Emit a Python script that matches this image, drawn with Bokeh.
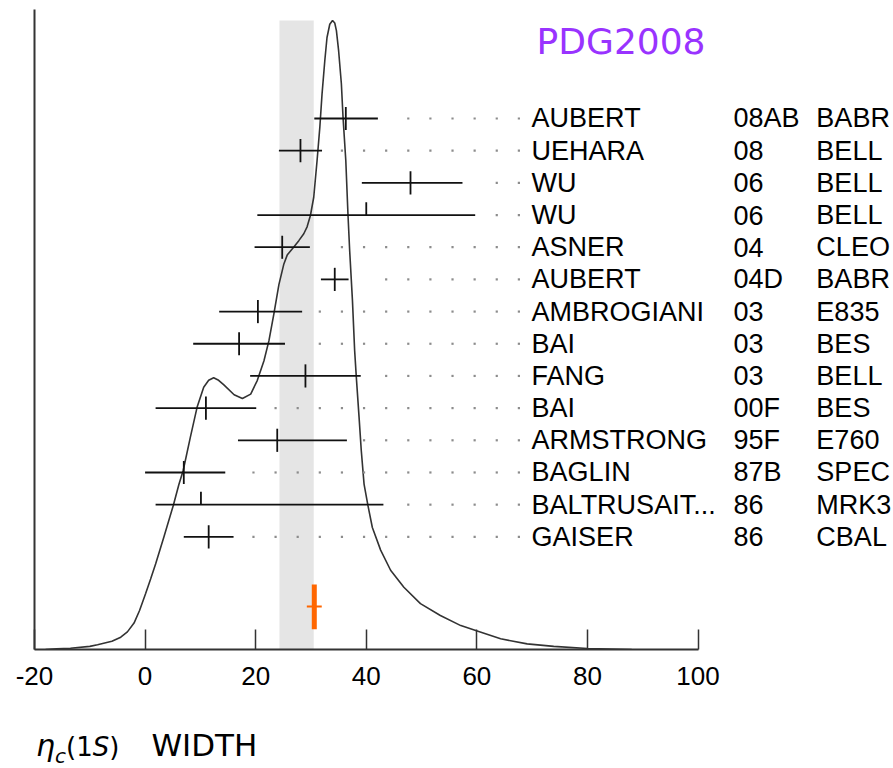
import numpy as np
from bokeh.plotting import figure
from bokeh.layouts import column
from bokeh.models import Range1d, FixedTicker, ColumnDataSource, Div
from bokeh.core.properties import value
from bokeh.embed import file_html
from bokeh.resources import INLINE

# Measurements of the eta_c(1S) width (MeV), newest first
authors = ["AUBERT", "UEHARA", "WU", "WU", "ASNER", "AUBERT", "AMBROGIANI", "BAI",
           "FANG", "BAI", "ARMSTRONG", "BAGLIN", "BALTRUSAIT...", "GAISER"]
years = ["08AB", "08", "06", "06", "04", "04D", "03", "03", "03", "00F", "95F", "87B", "86", "86"]
experiments = ["BABR", "BELL", "BELL", "BELL", "CLEO", "BABR", "E835", "BES", "BELL",
               "BES", "E760", "SPEC", "MRK3", "CBAL"]
widths = [36.3, 28.1, 48.0, 40.0, 24.8, 34.3, 20.4, 17.0, 29.0, 11.0, 23.9, 7.0, 10.1, 11.5]
err_minus = [5.7, 3.9, 8.8, 19.7, 5.0, 2.5, 7.0, 8.3, 10.0, 9.1, 7.1, 7.0, 8.2, 4.5]
err_plus = [5.8, 3.9, 9.4, 19.7, 5.0, 2.5, 8.0, 8.3, 10.0, 9.1, 12.6, 7.5, 33.0, 4.5]
used_in_fit = [True, True, True, False, True, True, True, True, True, True, True, True, False, True]

# Fitted average (grey band) and the highlighted value (orange marker)
fit_mean, fit_err = 27.4, 3.1
highlight_value, highlight_err = 30.6, 1.35

# Ideogram curve, relative height (peak = 1)
curve_x = [-18.0, -16.0, -13.5, -10.0, -8.6, -6.0, -4.4, -3.2, -2.0, -1.0, 0.1, 1.0, 1.9, 3.4,
           5.1, 6.1, 6.9, 8.2, 9.4, 10.6, 11.5, 12.4, 13.3, 14.2, 16.1, 17.6, 19.1, 20.3, 21.5,
           22.4, 23.3, 24.2, 25.1, 25.7, 26.9, 27.8, 28.7, 29.3, 29.9, 30.5, 31.1, 31.6, 32.0,
           32.5, 32.9, 33.4, 33.9, 34.3, 34.6, 35.0, 35.5, 35.8, 36.3, 36.7, 37.0, 37.5, 37.9,
           38.2, 38.7, 39.1, 39.6, 40.3, 41.1, 42.6, 44.4, 46.8, 49.8, 53.4, 57.1, 60.2, 64.3,
           69.1, 73.9, 80.0, 88.0]
curve_h = [0.0, 0.001, 0.002, 0.005, 0.0075, 0.013, 0.0196, 0.028, 0.042, 0.062, 0.089, 0.112,
           0.136, 0.179, 0.229, 0.262, 0.285, 0.338, 0.385, 0.417, 0.428, 0.432, 0.428, 0.421,
           0.405, 0.399, 0.406, 0.428, 0.459, 0.491, 0.534, 0.580, 0.613, 0.627, 0.640, 0.650,
           0.661, 0.672, 0.690, 0.719, 0.777, 0.830, 0.883, 0.936, 0.973, 0.994, 1.0, 0.996,
           0.984, 0.952, 0.899, 0.846, 0.777, 0.690, 0.634, 0.555, 0.475, 0.433, 0.369, 0.316,
           0.263, 0.229, 0.194, 0.158, 0.126, 0.099, 0.073, 0.054, 0.038, 0.029, 0.017, 0.009,
           0.005, 0.0015, 0.0]

x_ticks = [-20, 0, 20, 40, 60, 80, 100]

n = len(authors)
rows = np.arange(n, 0, -1).astype(float)  # top entry highest
w = np.array(widths)
lo = w - np.array(err_minus)
hi = w + np.array(err_plus)
fit_flags = np.array(used_in_fit)

p = figure(width=893, height=700, x_range=Range1d(-20, 135.35), y_range=Range1d(-2.501, 17.387),
           output_backend="svg", toolbar_location=None,
           min_border_left=34, min_border_right=0, min_border_top=9, min_border_bottom=51)
p.title.visible = False
p.outline_line_color = None
p.xgrid.visible = False
p.ygrid.visible = False
p.background_fill_color = "white"
p.border_fill_color = "white"
p.extra_y_ranges = {"ideogram": Range1d(0, 640 / 629)}

# bottom axis, limited to the measurement range
p.xaxis.ticker = FixedTicker(ticks=x_ticks)
p.xaxis.bounds = (x_ticks[0], x_ticks[-1])
p.xaxis.major_label_overrides = {t: str(t) for t in x_ticks}
p.xaxis.axis_line_width = 2
p.xaxis.axis_line_color = "#333333"
p.xaxis.major_tick_in = 20
p.xaxis.major_tick_out = 0
p.xaxis.minor_tick_in = 0
p.xaxis.minor_tick_out = 0
p.xaxis.major_tick_line_color = "#333333"
p.xaxis.major_tick_line_width = 1.5
p.xaxis.major_label_text_font = "Liberation Sans"
p.xaxis.major_label_text_font_size = "26px"
p.xaxis.major_label_text_color = "black"
p.xaxis.major_label_standoff = 17

# plain left axis line
p.yaxis.ticker = FixedTicker(ticks=[])
p.yaxis.major_label_text_font_size = "0px"
p.yaxis.major_tick_in = 0
p.yaxis.major_tick_out = 0
p.yaxis.minor_tick_in = 0
p.yaxis.minor_tick_out = 0
p.yaxis.axis_line_width = 2
p.yaxis.axis_line_color = "#333333"

# grey band for the average
p.quad(left=[fit_mean - fit_err], right=[fit_mean + fit_err], bottom=[0], top=[max(curve_h)],
       y_range_name="ideogram", fill_color="#e5e5e5", line_color=None)

# ideogram
p.line(curve_x, curve_h, y_range_name="ideogram", line_color="#333333", line_width=1.6)

# dotted leaders from each bar towards the labels
dot_grid = np.arange(3.6, 68.0, 4.0)
dx, dy = [], []
for k in range(n):
    for g in dot_grid:
        if g > hi[k] + 2.8:
            dx.append(g)
            dy.append(rows[k])
p.scatter(dx, dy, marker="square", size=2.2, fill_color="#8c8c8c", line_color=None)

# error bars
p.segment(x0=lo, x1=hi, y0=rows, y1=rows, line_color="#111111", line_width=1.8)
p.segment(x0=w[fit_flags], x1=w[fit_flags], y0=rows[fit_flags] - 0.36, y1=rows[fit_flags] + 0.36,
          line_color="#111111", line_width=1.8)
p.segment(x0=w[~fit_flags], x1=w[~fit_flags], y0=rows[~fit_flags], y1=rows[~fit_flags] + 0.40,
          line_color="#111111", line_width=1.8)

# highlighted value
p.segment(x0=[highlight_value], x1=[highlight_value], y0=[-0.48], y1=[-1.87],
          line_color="#ff6600", line_width=5)
p.segment(x0=[highlight_value - highlight_err], x1=[highlight_value + highlight_err],
          y0=[-1.165], y1=[-1.165], line_color="#ff6600", line_width=2)

# label columns
label_src = ColumnDataSource(dict(y=rows, a=authors, yr=years, ex=experiments))
for xpos, col in ((69.9, "a"), (106.4, "yr"), (121.4, "ex")):
    p.text(x=xpos, y="y", text=col, source=label_src, text_baseline="middle", text_align="left",
           text_font=value("Liberation Sans"), text_font_size="27px", text_color="black")

p.text(x=[70.8], y=[16.39], text=["PDG2008"], text_baseline="middle", text_align="left",
       text_font=value("DejaVu Sans"), text_font_size="36px", text_color="#9933ff")

# quantity name under the axis
quantity_html = (
    '<div style="position:absolute; left:36px; top:25px; white-space:nowrap; '
    'font-family:\'DejaVu Sans\'; color:black; line-height:40px;">'
    '<i style="font-size:30px;">&eta;</i>'
    '<sub style="font-size:20px; vertical-align:-7px;"><i>c</i></sub>'
    '<span style="font-size:26px;">(1<i>S</i>)</span>'
    '<span style="font-size:31px; margin-left:32px;">WIDTH</span></div>'
)
caption = Div(text=quantity_html, width=893, height=68, margin=(0, 0, 0, 0),
              styles={"position": "relative", "overflow": "hidden"})

layout = column(p, caption, spacing=0)
open("out.html", "w").write(file_html(layout, INLINE))
